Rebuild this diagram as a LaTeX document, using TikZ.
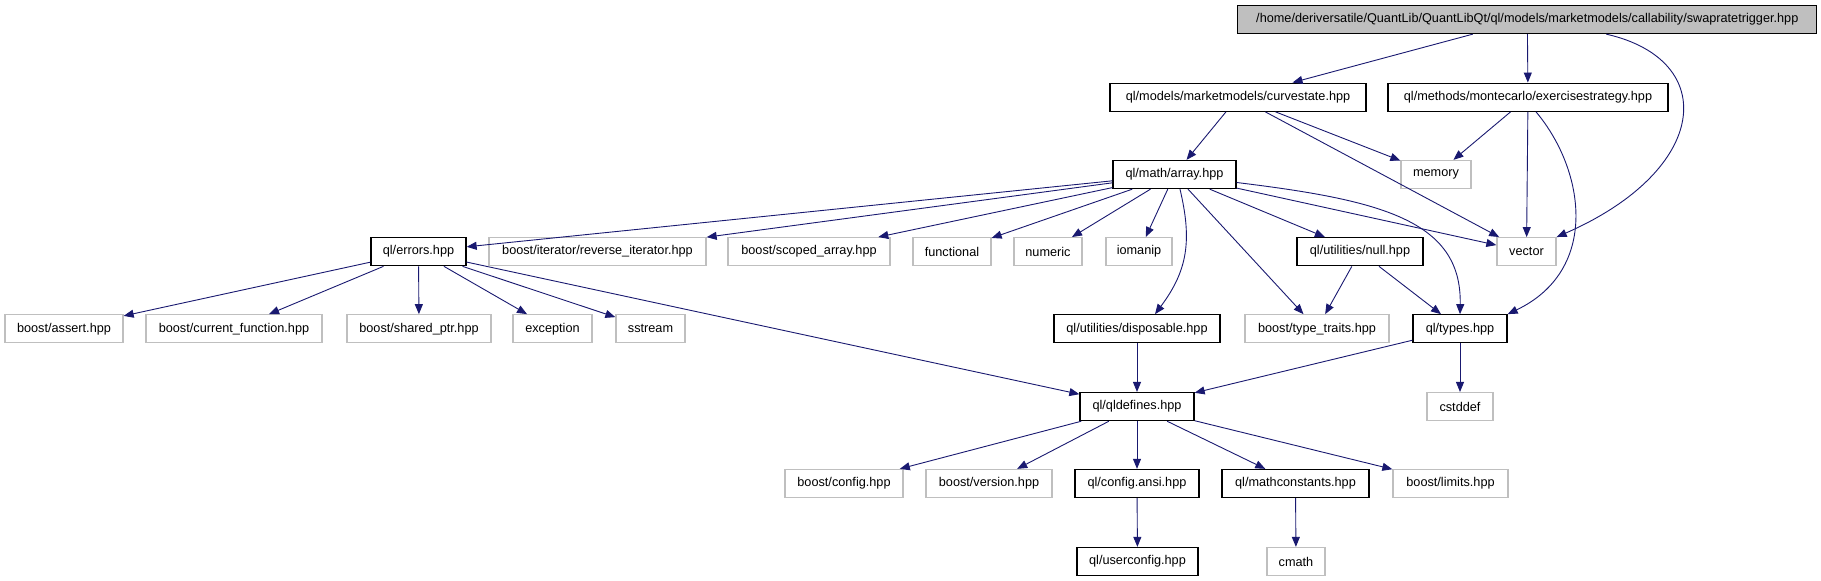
\documentclass[tikz,border=0pt]{standalone}
\usepackage{fontspec}
\setmainfont{Liberation Sans}
\usepackage{tikz}
\usetikzlibrary{arrows.meta}
\definecolor{edgeblue}{HTML}{191970}
\definecolor{boxgray}{HTML}{BFBFBF}

\begin{document}
\begin{tikzpicture}[
      x=1pt, y=-1pt,
      qlfile/.style={draw=black, line width=1.3pt, minimum height=28pt, inner sep=0pt},
      extfile/.style={draw=boxgray, line width=1.3pt, minimum height=28pt, inner sep=0pt},
      topfile/.style={qlfile, fill=boxgray},
      dep/.style={draw=edgeblue, line width=0.9pt, -{Triangle[length=10pt,width=8pt]}},
      every node/.style={font=\fontsize{12.7}{15}\selectfont}
    ]
      \useasboundingbox (0,0) rectangle (1821,581);

      % row 0 and 1
      \node[topfile, minimum width=579pt] (top) at (1527.3,19.5) {/home/deriversatile/QuantLib/QuantLibQt/ql/models/marketmodels/callability/swapratetrigger.hpp};
      \node[qlfile, minimum width=256pt] (curve) at (1238,97.2) {ql/models/marketmodels/curvestate.hpp};
      \node[qlfile, minimum width=280pt] (exer) at (1528,97.2) {ql/methods/montecarlo/exercisestrategy.hpp};

      % row 2
      \node[qlfile, minimum width=123pt] (array) at (1174.5,174.5) {ql/math/array.hpp};
      \node[extfile, minimum width=70pt] (memory) at (1436,174.5) {memory};

      % row 3
      \node[qlfile, minimum width=95pt] (errors) at (418.5,251.7) {ql/errors.hpp};
      \node[extfile, minimum width=217pt] (revit) at (597.5,251.7) {boost/iterator/reverse\_iterator.hpp};
      \node[extfile, minimum width=162pt] (scoped) at (809,251.7) {boost/scoped\_array.hpp};
      \node[extfile, minimum width=78pt] (functional) at (952,251.7) {functional};
      \node[extfile, minimum width=68pt] (numeric) at (1048,251.7) {numeric};
      \node[extfile, minimum width=66pt] (iomanip) at (1139,251.7) {iomanip};
      \node[qlfile, minimum width=126pt] (null) at (1360,251.7) {ql/utilities/null.hpp};
      \node[extfile, minimum width=59pt] (vector) at (1526.5,251.7) {vector};

      % row 4
      \node[extfile, minimum width=118pt] (assert) at (64,328.8) {boost/assert.hpp};
      \node[extfile, minimum width=176pt] (curfun) at (234,328.8) {boost/current\_function.hpp};
      \node[extfile, minimum width=144pt] (sharedptr) at (419,328.8) {boost/shared\_ptr.hpp};
      \node[extfile, minimum width=79pt] (exception) at (552.5,328.8) {exception};
      \node[extfile, minimum width=69pt] (sstream) at (650.5,328.8) {sstream};
      \node[qlfile, minimum width=166pt] (disposable) at (1137,328.8) {ql/utilities/disposable.hpp};
      \node[extfile, minimum width=144pt] (typetraits) at (1317,328.8) {boost/type\_traits.hpp};
      \node[qlfile, minimum width=94pt] (types) at (1460,328.8) {ql/types.hpp};

      % row 5
      \node[qlfile, minimum width=114pt] (qldefines) at (1137,406.6) {ql/qldefines.hpp};
      \node[extfile, minimum width=66pt] (cstddef) at (1460,406.6) {cstddef};

      % row 6 and 7
      \node[extfile, minimum width=118pt] (bconfig) at (844,483.5) {boost/config.hpp};
      \node[extfile, minimum width=126pt] (bversion) at (989,483.5) {boost/version.hpp};
      \node[qlfile, minimum width=124pt] (configansi) at (1137,483.5) {ql/config.ansi.hpp};
      \node[qlfile, minimum width=147pt] (mathconst) at (1295.5,483.5) {ql/mathconstants.hpp};
      \node[extfile, minimum width=115pt] (blimits) at (1450.5,483.5) {boost/limits.hpp};
      \node[qlfile, minimum width=121pt] (userconfig) at (1137.5,561.5) {ql/userconfig.hpp};
      \node[extfile, minimum width=58pt] (cmath) at (1296,561.5) {cmath};

      % includes
      \draw[dep] (top) -- (curve);
      \draw[dep] (top) -- (exer);
      \draw[dep] ([xshift=79pt]top.south) .. controls (1720,60) and (1710,170) .. (vector.north east);
      \draw[dep] (curve) -- (array);
      \draw[dep] (curve) -- (memory);
      \draw[dep] (curve) -- (vector);
      \draw[dep] (exer) -- (memory);
      \draw[dep] (exer) -- (vector);
      \draw[dep] ([xshift=8pt]exer.south) .. controls (1585,170) and (1600,270) .. (types.north east);

      \foreach \dst in {errors, revit, scoped, functional, numeric, iomanip, typetraits, null, vector}
        \draw[dep] (array) -- (\dst);
      \draw[dep] ([xshift=5.5pt]array.south) .. controls (1192,240) and (1188,270) .. ([xshift=18pt]disposable.north);
      \draw[dep] ([yshift=-8pt]array.east) .. controls (1380,200) and (1462,220) .. (types.north);

      \draw[dep] (null) -- (typetraits);
      \draw[dep] (null) -- (types);

      \foreach \dst in {assert, curfun, sharedptr, exception, sstream, qldefines}
        \draw[dep] (errors) -- (\dst);
      \draw[dep] (disposable) -- (qldefines);
      \draw[dep] (types) -- (qldefines);
      \draw[dep] (types) -- (cstddef);

      \foreach \dst in {bconfig, bversion, configansi, mathconst, blimits}
        \draw[dep] (qldefines) -- (\dst);
      \draw[dep] (configansi) -- (userconfig);
      \draw[dep] (mathconst) -- (cmath);
    \end{tikzpicture}
\end{document}
